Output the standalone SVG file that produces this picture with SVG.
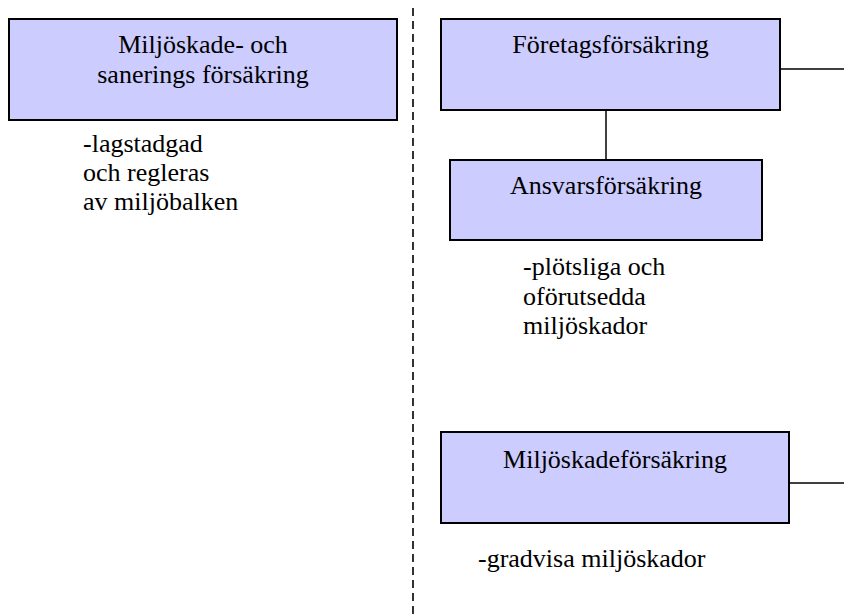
<svg xmlns="http://www.w3.org/2000/svg" width="844" height="616" viewBox="0 0 844 616">
  <style>
    .box { fill: #ccccff; stroke: #000; stroke-width: 2; }
    .link { stroke: #000; stroke-width: 1.5; fill: none; }
    .divider { stroke: #000; stroke-width: 1.6; stroke-dasharray: 8 5; fill: none; }
  </style>
  <rect width="844" height="616" fill="#fff"/>

  <!-- dashed divider between the two columns -->
  <line class="divider" x1="413" y1="8" x2="413" y2="616"/>

  <!-- connecting lines -->
  <g id="connectors">
    <line class="link" x1="606" y1="110" x2="606" y2="160"/>
    <line class="link" x1="780" y1="69" x2="844" y2="69"/>
    <line class="link" x1="789" y1="483" x2="844" y2="483"/>
  </g>

  <g font-family="'Liberation Serif', Tinos, 'Times New Roman', 'DejaVu Serif', serif" font-size="26" fill="#000">
    <g id="miljoskade-sanering">
      <rect class="box" x="9" y="19" width="388" height="101"/>
      <text x="203" y="53" text-anchor="middle">Miljöskade- och</text>
      <text x="203" y="83" text-anchor="middle">sanerings försäkring</text>
      <text x="83" y="152">-lagstadgad</text>
      <text x="83" y="181">och regleras</text>
      <text x="83" y="210">av miljöbalken</text>
    </g>

    <g id="foretagsforsakring">
      <rect class="box" x="441" y="19" width="339" height="91"/>
      <text x="610.5" y="53" text-anchor="middle">Företagsförsäkring</text>
    </g>

    <g id="ansvarsforsakring">
      <rect class="box" x="450" y="160" width="312" height="80"/>
      <text x="606" y="194" text-anchor="middle">Ansvarsförsäkring</text>
      <text x="523" y="275">-plötsliga och</text>
      <text x="523" y="305">oförutsedda</text>
      <text x="523" y="334">miljöskador</text>
    </g>

    <g id="miljoskadeforsakring">
      <rect class="box" x="441" y="432" width="348" height="91"/>
      <text x="615" y="468" text-anchor="middle">Miljöskadeförsäkring</text>
      <text x="478" y="567">-gradvisa miljöskador</text>
    </g>
  </g>
</svg>
